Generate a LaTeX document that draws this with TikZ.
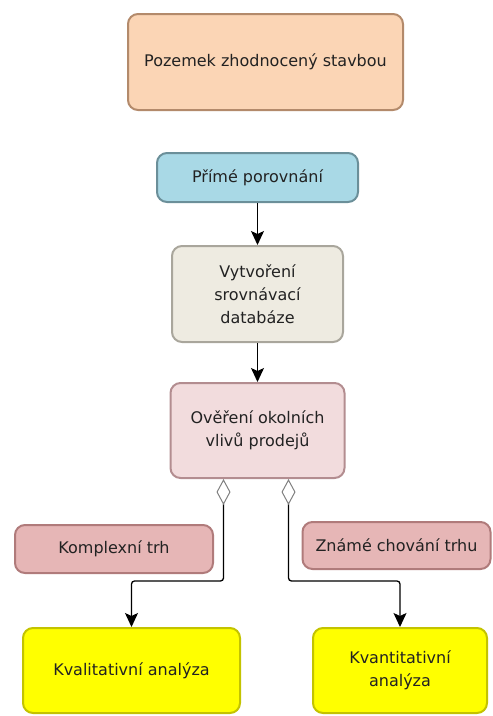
\documentclass[tikz,border=0pt]{standalone}
\usepackage{fontspec}
\setmainfont{DejaVu Sans}
\usetikzlibrary{arrows.meta,calc}

\definecolor{txt}{HTML}{222222}
\definecolor{peachfill}{HTML}{FBD5B5}
\definecolor{peachline}{HTML}{B38A6B}
\definecolor{bluefill}{HTML}{A9D9E6}
\definecolor{blueline}{HTML}{6B8F99}
\definecolor{beigefill}{HTML}{EEEBE1}
\definecolor{beigeline}{HTML}{A9A69C}
\definecolor{pinkfill}{HTML}{F2DCDD}
\definecolor{pinkline}{HTML}{B38D90}
\definecolor{rosefill}{HTML}{E6B6B6}
\definecolor{roseline}{HTML}{B07B7B}
\definecolor{yellowfill}{HTML}{FFFF00}
\definecolor{yellowline}{HTML}{C3C300}

\tikzset{
  box/.style={draw, line width=2pt, rounded corners=10pt, align=center,
    text=txt, inner sep=2pt,
    font=\fontsize{16}{23}\selectfont},
  peach/.style={box, fill=peachfill, draw=peachline},
  blue/.style={box, fill=bluefill, draw=blueline},
  beige/.style={box, fill=beigefill, draw=beigeline},
  pinkbox/.style={box, fill=pinkfill, draw=pinkline},
  rose/.style={box, fill=rosefill, draw=roseline},
  yel/.style={box, fill=yellowfill, draw=yellowline},
  flow/.style={draw=black, line width=1.3pt,
    -{Stealth[length=14pt, width=13pt, inset=3pt]}},
  agg/.style={draw=black, line width=1.3pt, rounded corners=3pt,
    {Diamond[open, length=26pt, width=14pt, color=gray, line width=1pt]}-{Stealth[length=14pt, width=13pt, inset=3pt]}},
}

\begin{document}
\begin{tikzpicture}[x=1pt, y=-1pt]
  \useasboundingbox (0,0) rectangle (493,716);

  % nodes
  \node[peach, minimum width=275pt, minimum height=96pt] (top) at (265.5,62) {Pozemek zhodnocený stavbou};
  \node[blue, minimum width=201pt, minimum height=49pt] (prime) at (257.5,177.5) {Přímé porovnání};
  \node[beige, minimum width=171pt, minimum height=96pt] (db) at (257.5,294) {Vytvoření\\srovnávací\\databáze};
  \node[pinkbox, minimum width=174pt, minimum height=95pt] (over) at (257.5,430.5) {Ověření okolních\\vlivů prodejů};
  \node[rose, minimum width=198pt, minimum height=48pt] (komp) at (114,549) {Komplexní trh};
  \node[rose, minimum width=188pt, minimum height=47pt] (zname) at (396.5,545.5) {Známé chování trhu};
  \node[yel, minimum width=217pt, minimum height=85pt] (kval) at (131.5,670.5) {Kvalitativní analýza};
  \node[yel, minimum width=174pt, minimum height=85pt] (kvant) at (400,670.5) {Kvantitativní\\analýza};

  % connectors
  \draw[flow] (prime.south) -- (db.north);
  \draw[flow] (db.south) -- (over.north);

  \coordinate (aL) at ($(over.south)+(-34,0)$);
  \coordinate (aR) at ($(over.south)+(31,0)$);
  \draw[agg] (aL) |- ($(kval.north)+(0,-46)$) -- (kval.north);
  \draw[agg] (aR) |- ($(kvant.north)+(0,-46)$) -- (kvant.north);
\end{tikzpicture}
\end{document}
